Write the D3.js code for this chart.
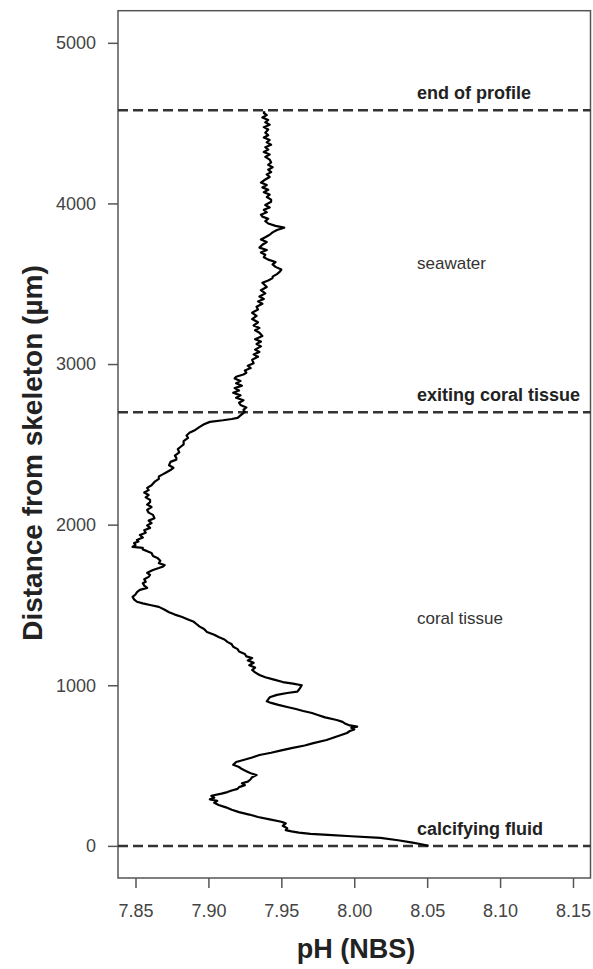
<!DOCTYPE html>
<html>
<head>
<meta charset="utf-8">
<script src="https://cdn.jsdelivr.net/npm/d3@7"></script>
<style>
  body { margin: 0; background: #fff; }
  text { font-family: "Liberation Sans", Arial, sans-serif; }
</style>
</head>
<body>
<svg id="chart" width="593" height="969"></svg>
<script>

// Distance from skeleton (µm).
const depth = [
  0, 10, 20, 35, 50, 60, 68, 75, 82, 90, 98, 110, 125, 140, 150, 165, 180, 195, 210, 225,
  240, 255, 268, 280, 290, 300, 312, 325, 335, 345, 355, 366, 378, 390, 400, 415, 428, 441, 452, 465,
  478, 491, 505, 522, 535, 550, 566, 580, 595, 609, 625, 640, 659, 675, 690, 703, 715, 725, 735, 742,
  750, 760, 772, 784, 800, 815, 827, 840, 852, 865, 878, 890, 900, 912, 925, 940, 952, 960, 972, 985,
  1000, 1010, 1020, 1035, 1050, 1064, 1080, 1095, 1110, 1125, 1140, 1155, 1170, 1180, 1195, 1210, 1225, 1240, 1255, 1270,
  1285, 1300, 1315, 1332, 1350, 1365, 1380, 1395, 1410, 1425, 1440, 1455, 1470, 1488, 1500, 1510, 1520, 1535, 1550, 1565,
  1580, 1594, 1606, 1620, 1635, 1644, 1660, 1675, 1687, 1700, 1718, 1730, 1740, 1749, 1760, 1775, 1793, 1805, 1824, 1835,
  1845, 1855, 1862, 1872, 1885, 1895, 1905, 1920, 1936, 1950, 1965, 1980, 1995, 2010, 2025, 2040, 2061, 2075, 2092, 2110,
  2125, 2140, 2154, 2170, 2185, 2200, 2215, 2229, 2245, 2266, 2285, 2300, 2310, 2325, 2340, 2354, 2370, 2391, 2405, 2416,
  2430, 2450, 2470, 2485, 2500, 2520, 2540, 2555, 2572, 2590, 2609, 2625, 2640, 2650, 2658, 2665, 2680, 2695, 2703, 2715,
  2730, 2745, 2759, 2775, 2790, 2805, 2821, 2835, 2850, 2865, 2880, 2895, 2910, 2921, 2935, 2946, 2960, 2975, 2990, 3005,
  3027, 3045, 3060, 3075, 3090, 3110, 3125, 3140, 3155, 3175, 3195, 3210, 3225, 3240, 3260, 3280, 3300, 3319, 3340, 3357,
  3375, 3390, 3405, 3420, 3440, 3460, 3480, 3506, 3520, 3535, 3544, 3560, 3575, 3588, 3605, 3620, 3635, 3650, 3665, 3681,
  3695, 3710, 3725, 3743, 3760, 3775, 3790, 3805, 3820, 3835, 3849, 3860, 3875, 3890, 3905, 3918, 3930, 3945, 3960, 3975,
  3990, 4010, 4024, 4040, 4055, 4070, 4085, 4100, 4115, 4130, 4149, 4165, 4180, 4195, 4210, 4225, 4240, 4255, 4273, 4290,
  4305, 4320, 4335, 4350, 4365, 4380, 4395, 4410, 4425, 4440, 4460, 4475, 4490, 4505, 4520, 4535, 4550, 4563, 4574
];

// pH (NBS) at each of those distances.
const ph = [
  8.051, 8.046, 8.040, 8.030, 8.018, 7.998, 7.982, 7.970, 7.962, 7.957, 7.953, 7.954, 7.951, 7.953, 7.950, 7.942, 7.934, 7.928, 7.921, 7.916,
  7.912, 7.907, 7.904, 7.906, 7.901, 7.904, 7.902, 7.909, 7.913, 7.916, 7.920, 7.921, 7.925, 7.923, 7.927, 7.929, 7.930, 7.933, 7.929, 7.926,
  7.923, 7.921, 7.917, 7.919, 7.924, 7.930, 7.935, 7.943, 7.950, 7.957, 7.966, 7.972, 7.981, 7.986, 7.991, 7.995, 7.997, 8.000, 7.998, 8.002,
  7.997, 7.994, 7.992, 7.988, 7.980, 7.975, 7.971, 7.965, 7.960, 7.954, 7.948, 7.943, 7.940, 7.941, 7.942, 7.947, 7.954, 7.961, 7.962, 7.963,
  7.964, 7.958, 7.951, 7.945, 7.939, 7.935, 7.932, 7.930, 7.932, 7.928, 7.931, 7.927, 7.930, 7.926, 7.925, 7.921, 7.920, 7.917, 7.916, 7.913,
  7.911, 7.907, 7.904, 7.899, 7.897, 7.894, 7.892, 7.890, 7.886, 7.882, 7.877, 7.873, 7.870, 7.866, 7.860, 7.855, 7.851, 7.849, 7.848, 7.850,
  7.851, 7.853, 7.858, 7.856, 7.855, 7.857, 7.856, 7.859, 7.860, 7.858, 7.862, 7.866, 7.869, 7.870, 7.866, 7.867, 7.865, 7.862, 7.861, 7.858,
  7.855, 7.855, 7.848, 7.850, 7.849, 7.852, 7.851, 7.855, 7.853, 7.857, 7.856, 7.860, 7.858, 7.861, 7.859, 7.863, 7.862, 7.859, 7.858, 7.861,
  7.858, 7.860, 7.860, 7.857, 7.859, 7.856, 7.859, 7.858, 7.861, 7.863, 7.866, 7.866, 7.868, 7.871, 7.874, 7.876, 7.873, 7.874, 7.878, 7.878,
  7.877, 7.880, 7.879, 7.881, 7.883, 7.883, 7.886, 7.885, 7.887, 7.891, 7.894, 7.897, 7.901, 7.910, 7.916, 7.920, 7.922, 7.924, 7.925, 7.924,
  7.926, 7.922, 7.921, 7.924, 7.919, 7.922, 7.917, 7.921, 7.918, 7.923, 7.919, 7.922, 7.918, 7.919, 7.924, 7.926, 7.925, 7.929, 7.927, 7.931,
  7.930, 7.934, 7.931, 7.935, 7.932, 7.936, 7.933, 7.936, 7.932, 7.937, 7.935, 7.932, 7.935, 7.931, 7.934, 7.930, 7.933, 7.930, 7.934, 7.933,
  7.937, 7.934, 7.938, 7.935, 7.939, 7.936, 7.940, 7.937, 7.941, 7.944, 7.944, 7.947, 7.949, 7.950, 7.946, 7.944, 7.946, 7.941, 7.938, 7.939,
  7.936, 7.940, 7.935, 7.937, 7.940, 7.936, 7.939, 7.942, 7.944, 7.947, 7.952, 7.946, 7.941, 7.939, 7.941, 7.937, 7.936, 7.940, 7.938, 7.942,
  7.939, 7.943, 7.943, 7.940, 7.942, 7.938, 7.941, 7.937, 7.940, 7.936, 7.939, 7.942, 7.940, 7.943, 7.941, 7.944, 7.941, 7.943, 7.942, 7.939,
  7.942, 7.938, 7.941, 7.939, 7.943, 7.940, 7.942, 7.938, 7.941, 7.939, 7.941, 7.938, 7.942, 7.939, 7.941, 7.937, 7.940, 7.938, 7.9385
];

// Dashed reference levels and their labels.
const markDepth = [0, 2700, 4580];
const markLabel = ['calcifying fluid', 'exiting coral tissue', 'end of profile'];

// Zone names between the levels.
const zoneDepth = [1420, 3630];
const zoneLabel = ['coral tissue', 'seawater'];

const xTicks = [7.85, 7.90, 7.95, 8.00, 8.05, 8.10, 8.15];
const yTicks = [0, 1000, 2000, 3000, 4000, 5000];

const svg = d3.select('#chart');
const W = 593, H = 969;
const margin = { top: 10.7, right: 2.5, bottom: 91, left: 118 };

// R style: limits padded by 4% on each side.
const x = d3.scaleLinear().domain([7.838, 8.162]).range([margin.left, W - margin.right]);
const y = d3.scaleLinear().domain([-200, 5200]).range([H - margin.bottom, margin.top]);

const axisColor = '#555';

// Plot box.
svg.append('rect')
  .attr('x', x.range()[0]).attr('y', y.range()[1])
  .attr('width', x.range()[1] - x.range()[0])
  .attr('height', y.range()[0] - y.range()[1])
  .attr('fill', 'none').attr('stroke', axisColor).attr('stroke-width', 1.5);

// Axes.
const xAxis = svg.append('g')
  .attr('transform', `translate(0,${y.range()[0]})`)
  .call(d3.axisBottom(x).tickValues(xTicks).tickFormat(d3.format('.2f')).tickSize(10).tickPadding(16));

const yAxis = svg.append('g')
  .attr('transform', `translate(${x.range()[0]},0)`)
  .call(d3.axisLeft(y).tickValues(yTicks).tickFormat(d3.format('d')).tickSize(10).tickPadding(12));

[xAxis, yAxis].forEach(g => {
  g.select('.domain').remove();
  g.selectAll('.tick line').attr('stroke', axisColor).attr('stroke-width', 1.5);
  g.selectAll('.tick text')
    .attr('fill', '#444')
    .style('font-size', '18px')
    .style('font-family', '"Liberation Sans", Arial, sans-serif');
});

// Dashed levels.
svg.append('g').selectAll('line')
  .data(markDepth)
  .join('line')
  .attr('x1', x.range()[0]).attr('x2', x.range()[1])
  .attr('y1', d => y(d)).attr('y2', d => y(d))
  .attr('stroke', '#333').attr('stroke-width', 2.5)
  .attr('stroke-dasharray', '10,5');

// Profile line.
const line = d3.line()
  .x((d, i) => x(ph[i]))
  .y(d => y(d));

svg.append('path')
  .datum(depth)
  .attr('d', line)
  .attr('fill', 'none')
  .attr('stroke', '#000')
  .attr('stroke-width', 2.2)
  .attr('stroke-linejoin', 'round');

// Labels.
const labelX = 417;

svg.append('g').selectAll('text')
  .data(markDepth)
  .join('text')
  .attr('x', labelX)
  .attr('y', d => y(d) - 11)
  .attr('fill', '#222')
  .style('font-size', '18px')
  .style('font-weight', 'bold')
  .text((d, i) => markLabel[i]);

svg.append('g').selectAll('text')
  .data(zoneDepth)
  .join('text')
  .attr('x', labelX)
  .attr('y', d => y(d) + 6)
  .attr('fill', '#333')
  .style('font-size', '17px')
  .text((d, i) => zoneLabel[i]);

// Axis titles.
svg.append('text')
  .attr('x', 356)
  .attr('y', 958)
  .attr('text-anchor', 'middle')
  .attr('fill', '#222')
  .style('font-size', '27px')
  .style('font-weight', 'bold')
  .text('pH (NBS)');

svg.append('text')
  .attr('transform', 'translate(41.5,453) rotate(-90)')
  .attr('text-anchor', 'middle')
  .attr('fill', '#222')
  .style('font-size', '28px')
  .style('font-weight', 'bold')
  .text('Distance from skeleton (µm)');

</script>
</body>
</html>
